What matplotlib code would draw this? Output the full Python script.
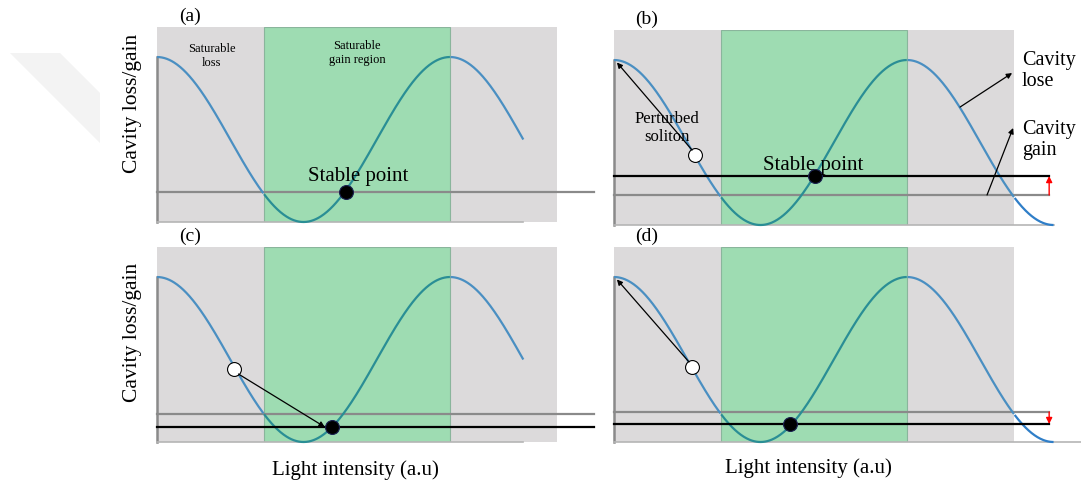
import numpy as np
import matplotlib
matplotlib.use("Agg")
import matplotlib.pyplot as plt
from matplotlib.patches import Rectangle, Polygon

plt.rcParams['font.family'] = ['Liberation Serif', 'DejaVu Serif']

# panel data (x in half-periods of the loss curve, y normalised: min 0, peak 1)
labels = ["(a)", "(b)", "(c)", "(d)"]
curve_end = [2.5, 3.0, 2.5, 3.0]
bottom_end = [2.5, 3.0, 2.5, 3.2]
gain_old = [0.182, 0.182, 0.17, 0.182]
gain_new = [None, 0.297, 0.091, 0.109]
gain_end = [2.98, 2.97, 2.98, 2.97]
stable_x = [1.29, 1.372, 1.195, 1.201]
pert_x = [None, 0.553, 0.526, 0.532]
pert_y = [None, 0.424, 0.442, 0.455]
gray_span = (0.0, 2.73)
green_span = (0.73, 2.0)
top_y = 1.182

# pixel layout of each panel's shaded box: (left, top)
boxes = [(157, 27), (614, 30), (157, 247), (614, 247)]
W, H = 1081, 482
BW, BH = 400, 195

GRAY = "#dcdadb"
GREEN = "#9edcb2"
BLUE_OUT = "#2f7ec8"
BLUE_GRAY = "#4a8fc2"
TEAL = "#2a8e95"

fig = plt.figure(figsize=(W / 100, H / 100), dpi=100)

# faint watermark band on the left
fig.patches.append(Polygon([(10 / W, 1 - 53 / H), (60 / W, 1 - 53 / H),
                            (100 / W, 1 - 93 / H), (100 / W, 1 - 143 / H)],
                           closed=True, transform=fig.transFigure,
                           facecolor="#f3f3f3", edgecolor="none"))

for i in range(4):
    L, T = boxes[i]
    ax = fig.add_axes([L / W, 1 - (T + BH) / H, BW / W, BH / H])
    ax.set_xlim(gray_span)
    ax.set_ylim(0, top_y)
    ax.axis("off")

    ax.add_patch(Rectangle((0, 0), gray_span[1], top_y, facecolor=GRAY,
                           edgecolor="none", zorder=0))
    ax.add_patch(Rectangle((green_span[0], 0), green_span[1] - green_span[0], top_y,
                           facecolor=GREEN, edgecolor="#8ab59c", lw=0.8, zorder=1))

    # saturable absorber transmission curve
    x = np.linspace(0, curve_end[i], 600)
    y = 0.5 + 0.5 * np.cos(np.pi * x)
    in_green = (x >= green_span[0]) & (x <= green_span[1])
    in_gray = (x <= gray_span[1]) & ~in_green
    out = x >= gray_span[1]
    for m, c in [(in_gray, BLUE_GRAY), (in_green, TEAL), (out, BLUE_OUT)]:
        ax.plot(np.where(m, x, np.nan), y, color=c, lw=1.6, zorder=3,
                clip_on=False, solid_capstyle="butt")

    # axes lines
    ax.plot([0, 0], [0, 1.0], color="#8a8a8a", lw=1.8, zorder=2, clip_on=False)
    ax.plot([0, bottom_end[i]], [0, 0], color="#b5b5b5", lw=1.2, zorder=2, clip_on=False)

    # gain levels
    ax.plot([0, gain_end[i]], [gain_old[i], gain_old[i]], color="#8a8a8a", lw=1.6,
            zorder=2, clip_on=False)
    sy = gain_old[i]
    if gain_new[i] is not None:
        sy = gain_new[i]
        ax.plot([0, gain_end[i]], [sy, sy], color="black", lw=1.6, zorder=4,
                clip_on=False)
        if i in (1, 3):
            ax.annotate("", xy=(gain_end[i], sy), xytext=(gain_end[i], gain_old[i]),
                        arrowprops=dict(arrowstyle="-|>", color="red", lw=1.0,
                                        mutation_scale=9, shrinkA=0, shrinkB=0),
                        annotation_clip=False, zorder=5)

    ax.plot(stable_x[i], sy, "o", ms=10, mfc="black", mec="#1a2050", mew=0.8,
            zorder=6, clip_on=False)

    if pert_x[i] is not None:
        ax.plot(pert_x[i], pert_y[i], "o", ms=10, mfc="white", mec="black", mew=0.8,
                zorder=6, clip_on=False)
        if i == 2:
            ax.annotate("", xy=(stable_x[i] - 0.05, sy), xytext=(pert_x[i] + 0.03, pert_y[i] - 0.03),
                        arrowprops=dict(arrowstyle="-|>", color="black", lw=0.9,
                                        mutation_scale=8, shrinkA=0, shrinkB=0),
                        annotation_clip=False, zorder=7)
        else:
            ax.annotate("", xy=(0.02, 0.985), xytext=(pert_x[i] - 0.02, pert_y[i] + 0.03),
                        arrowprops=dict(arrowstyle="-|>", color="black", lw=0.9,
                                        mutation_scale=8, shrinkA=0, shrinkB=0),
                        annotation_clip=False, zorder=7)

    ax.text(0.225, top_y + 0.065, labels[i], fontsize=14, ha="center", va="center")

    if i == 0:
        ax.text(0.375, 1.006, "Saturable\nloss", fontsize=9, ha="center", va="center",
                linespacing=1.15)
        ax.text(1.365, 1.024, "Saturable\ngain region", fontsize=9, ha="center",
                va="center", linespacing=1.15)
        ax.text(1.372, 0.273, "Stable point", fontsize=15, ha="center", va="center",
                zorder=8)
    if i == 1:
        ax.text(1.358, 0.358, "Stable point", fontsize=15, ha="center", va="center",
                zorder=8)
        ax.text(0.362, 0.588, "Perturbed\nsoliton", fontsize=12, ha="center",
                va="center", linespacing=1.1, zorder=8)
        ax.text(2.785, 0.933, "Cavity\nlose", fontsize=14.5, ha="left", va="center",
                linespacing=1.15)
        ax.text(2.785, 0.515, "Cavity\ngain", fontsize=14.5, ha="left", va="center",
                linespacing=1.15)
        ax.annotate("", xy=(2.717, 0.921), xytext=(2.362, 0.715),
                    arrowprops=dict(arrowstyle="-|>", color="black", lw=0.9,
                                    mutation_scale=8, shrinkA=0, shrinkB=0),
                    annotation_clip=False, zorder=7)
        ax.annotate("", xy=(2.724, 0.588), xytext=(2.546, 0.182),
                    arrowprops=dict(arrowstyle="-|>", color="black", lw=0.9,
                                    mutation_scale=8, shrinkA=0, shrinkB=0),
                    annotation_clip=False, zorder=7)

# shared axis labels
for yc in (103, 332):
    fig.text(132 / W, 1 - yc / H, "Cavity loss/gain", rotation=90, fontsize=15.5,
             ha="center", va="center")
for xc, yc in ((355, 470), (808, 468)):
    fig.text(xc / W, 1 - yc / H, "Light intensity (a.u)", fontsize=15,
             ha="center", va="center")

fig.savefig("out.png", dpi=100)
